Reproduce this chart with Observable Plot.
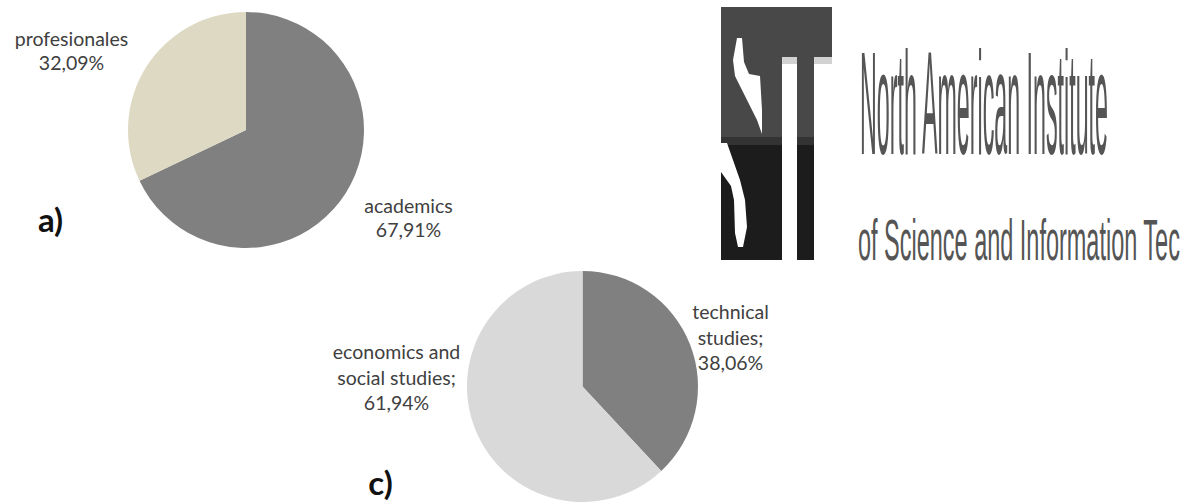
<!DOCTYPE html>
<html>
<head>
<meta charset="utf-8">
<script src="https://cdn.jsdelivr.net/npm/d3@7"></script>
<script src="https://cdn.jsdelivr.net/npm/@observablehq/plot@0.6"></script>
<style>
  html, body { margin: 0; padding: 0; background: #fff; }
  svg { display: block; }
</style>
</head>
<body>
<div id="chart"></div>
<script>
// ---- data ----
const catsA = ["academics", "profesionales"];
const valsA = [67.91, 32.09];
const colorsA = ["#808080", "#ddd9c3"];

const catsC = ["technical studies", "economics and social studies"];
const valsC = [38.06, 61.94];
const colorsC = ["#808080", "#d9d9d9"];

// display wrapping of the category names
const wrapA = ["academics", "profesionales"];
const wrapC = ["technical\nstudies;", "economics and\nsocial studies;"];

const panelLetters = ["a)", "c)"];

// ---- layout (pixels) ----
const W = 1184, H = 502;
const pieA = {cx: 246, cy: 130, r: 118};
const pieC = {cx: 582.5, cy: 386.5, r: 115.5};
const labelPosA = [{x: 408, y: 217}, {x: 71, y: 50}];
const labelPosC = [{x: 730, y: 336}, {x: 396, y: 376}];
const letterPos = [{x: 50, y: 221}, {x: 380, y: 484}];

const fmt = (v) => v.toFixed(2).replace(".", ",") + "%";

const colorA = Plot.scale({color: {type: "ordinal", domain: catsA, range: colorsA}});
const colorC = Plot.scale({color: {type: "ordinal", domain: catsC, range: colorsC}});

function pieMark(cats, vals, color, geom) {
  return (index, scales) => {
    const rows = cats.map((c, i) => ({c, v: vals[i]}));
    const arcs = d3.pie().sort(null).value((d) => d.v)(rows);
    const arc = d3.arc().innerRadius(0).outerRadius(geom.r);
    const g = d3.create("svg:g")
      .attr("transform", `translate(${scales.x(geom.cx)},${scales.y(geom.cy)})`);
    g.selectAll("path").data(arcs).join("path")
      .attr("d", arc)
      .attr("fill", (d) => color.apply(d.data.c));
    return g.node();
  };
}

const labelsA = catsA.map((c, i) => ({
  text: wrapA[i] + "\n" + fmt(valsA[i]), x: labelPosA[i].x, y: labelPosA[i].y
}));
const labelsC = catsC.map((c, i) => ({
  text: wrapC[i] + "\n" + fmt(valsC[i]), x: labelPosC[i].x, y: labelPosC[i].y
}));
const letters = panelLetters.map((t, i) => ({text: t, ...letterPos[i]}));

const svg = Plot.plot({
  width: W,
  height: H,
  margin: 0,
  style: {background: "#fff", overflow: "hidden"},
  x: {type: "linear", domain: [0, W], range: [0, W], axis: null},
  y: {type: "linear", domain: [0, H], range: [0, H], axis: null},
  marks: [
    pieMark(catsA, valsA, colorA, pieA),
    pieMark(catsC, valsC, colorC, pieC),
    Plot.text(labelsA, {x: "x", y: "y", text: "text", fontSize: 19.5, lineHeight: 1.23,
      fill: "#404040", fontFamily: "Lato"}),
    Plot.text(labelsC, {x: "x", y: "y", text: "text", fontSize: 19.5, lineHeight: 1.3,
      fill: "#404040", fontFamily: "Lato"}),
    Plot.text(letters, {x: "x", y: "y", text: "text", fontSize: 33, fontWeight: "bold",
      fill: "#111", fontFamily: "Lato"})
  ]
});
document.getElementById("chart").appendChild(svg);

// ---- logo (decoration) ----
const logo = d3.select(svg).append("g").attr("text-anchor", "start");
const R = (x, y, w, h, f) => logo.append("rect").attr("x", x).attr("y", y).attr("width", w).attr("height", h).attr("fill", f);
R(721, 7, 111, 50, "#484848");
R(721, 57, 61, 80, "#484848");
R(797, 57, 17, 80, "#484848");
R(782, 57, 15, 7, "#d2d2d2");
R(814, 57, 18, 7, "#d2d2d2");
R(721, 137, 61, 123, "#1c1c1c");
R(797, 137, 17, 123, "#1c1c1c");
R(721, 137, 61, 8, "#333333");
R(797, 137, 17, 8, "#333333");
logo.append("path").attr("fill", "#fff")
  .attr("d", "M737,38 L742,38 L744,62 L749,74 L760,76 L762,110 L762,134 L757,120 L742,90 L735,76 L733,60 Z");
logo.append("path").attr("fill", "#fff")
  .attr("d", "M721,143 L727,143 L740,180 L745,200 L747,227 L743,247 L738,247 L735,233 L734,200 L731,186 L721,172 Z");

function squeezedText(str, x, y, size, targetW) {
  const t = logo.append("text").attr("x", 0).attr("y", 0).attr("text-anchor", "start")
    .attr("font-family", "Liberation Sans").attr("font-size", size)
    .attr("fill", "#555").text(str);
  const w = t.node().getComputedTextLength() || 1;
  t.attr("transform", `translate(${x},${y}) scale(${targetW / w},1)`);
}
squeezedText("North American Institute", 860, 154, 146, 248);
squeezedText("of Science and Information Tec", 858, 260, 57, 322);
</script>
</body>
</html>
